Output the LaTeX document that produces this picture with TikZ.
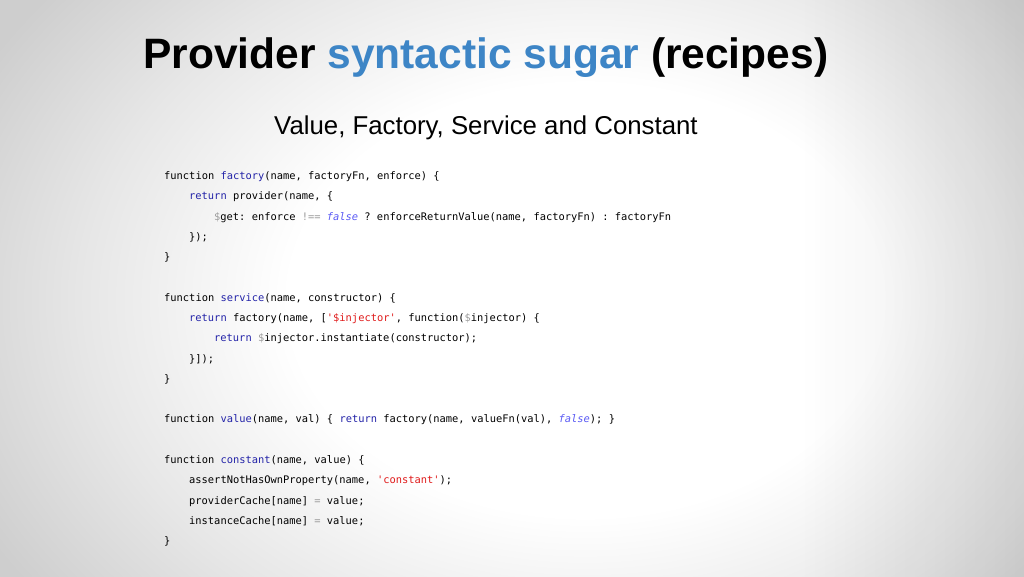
\documentclass[tikz,border=0pt]{standalone}
\usepackage{fontspec}
\usepackage{xcolor}
\setmainfont{Liberation Sans}
\setmonofont{DejaVu Sans Mono}

\definecolor{titleblue}{HTML}{3D85C6}
\definecolor{kwblue}{HTML}{2323A8}
\definecolor{litblue}{HTML}{5B5BF5}
\definecolor{strred}{HTML}{E01B1B}
\definecolor{opgray}{HTML}{9C9C9C}
\definecolor{bgbase}{HTML}{CECECE}
\colorlet{bgmid}{bgbase!50!white}
\definecolor{bgedge}{HTML}{E8E8E8}

\newcommand{\kw}[1]{\textcolor{kwblue}{#1}}
\newcommand{\lit}[1]{\textcolor{litblue}{\itshape #1}}
\newcommand{\str}[1]{\textcolor{strred}{#1}}
\newcommand{\op}[1]{\textcolor{opgray}{#1}}

%% soft white spot of the slide
\pgfdeclareradialshading{slideglow}{\pgfpointorigin}{color(0bp)=(white); color(10bp)=(white); color(17bp)=(bgmid); color(23bp)=(bgbase); color(50bp)=(bgbase)}

\tikzset{
  code/.style={anchor=base west, inner sep=0pt, font=\ttfamily\fontsize{10.4}{12}\selectfont\frenchspacing},
}

\begin{document}
\begin{tikzpicture}[x=1pt,y=-1pt]

\useasboundingbox (0,0) rectangle (1024,576);

%% background
\begin{scope}
\clip (0,0) rectangle (1024,576);
\fill[bgbase] (-5,-5) rectangle (1029,581);
\shade[shading=slideglow] (585,300) ellipse (740 and 540);
\shade[left color=white, right color=bgedge, blend mode=multiply] (800,-5) rectangle (1029,581);
\end{scope}

%% heading
\node[anchor=base west, inner sep=0pt, font=\bfseries\fontsize{42.5}{50}\selectfont] (title) at (143,68)
  {Provider \textcolor{titleblue}{syntactic sugar} (recipes)};
\node[anchor=base west, inner sep=0pt, font=\fontsize{25.8}{30}\selectfont] (subtitle) at (274,134)
  {Value, Factory, Service and Constant};

%% factory
\node[code] (l1)  at (164,179.5) {function \kw{factory}(name, factoryFn, enforce) \{};
\node[code] (l2)  at (189,199.8) {\kw{return} provider(name, \{};
\node[code] (l3)  at (214,220.1) {\op{\$}get: enforce \op{!==} \lit{false} ? enforceReturnValue(name, factoryFn) : factoryFn};
\node[code] (l4)  at (189,240.4) {\});};
\node[code] (l5)  at (164,260.6) {\}};

%% service
\node[code] (l7)  at (164,301.2) {function \kw{service}(name, constructor) \{};
\node[code] (l8)  at (189,321.5) {\kw{return} factory(name, [\str{'\$injector'}, function(\op{\$}injector) \{};
\node[code] (l9)  at (214,341.8) {\kw{return} \op{\$}injector.instantiate(constructor);};
\node[code] (l10) at (189,362.0) {\}]);};
\node[code] (l11) at (164,382.3) {\}};

%% value
\node[code] (l13) at (164,422.9) {function \kw{value}(name, val) \{ \kw{return} factory(name, valueFn(val), \lit{false}); \}};

%% constant
\node[code] (l15) at (164,463.4) {function \kw{constant}(name, value) \{};
\node[code] (l16) at (189,483.7) {assertNotHasOwnProperty(name, \str{'constant'});};
\node[code] (l17) at (189,504.0) {providerCache[name] \op{=} value;};
\node[code] (l18) at (189,524.3) {instanceCache[name] \op{=} value;};
\node[code] (l19) at (164,544.6) {\}};

\end{tikzpicture}
\end{document}
